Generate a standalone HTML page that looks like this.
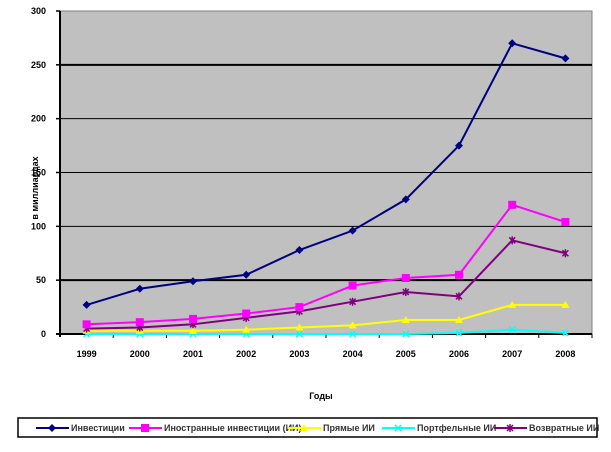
<!DOCTYPE html>
<html><head><meta charset="utf-8"><style>
body{margin:0;background:#fff;font-family:"Liberation Sans",sans-serif}
svg text{font-family:"Liberation Sans",sans-serif;font-weight:bold;font-size:9px}
</style></head><body>
<svg width="611" height="447">
<g id="g"></g>
</svg>
<script>
const categories=["1999","2000","2001","2002","2003","2004","2005","2006","2007","2008"];
const invest=[27,42,49,55,78,96,125,175,270,256];
const foreign=[9,11,14,19,25,45,52,55,120,104];
const direct=[3,3,3,4,6,8,13,13,27,27];
const portfolio=[0,0,0,0,0,0,0,1,4,1];
const returned=[5,6,9,15,21,30,39,35,87,75];
const yTicks=[0,50,100,150,200,250,300];
const NS="http://www.w3.org/2000/svg";
const g=document.getElementById('g');
const L=60,R=592,T=11,B=334,ymax=300;
const cw=(R-L)/categories.length;
const X=i=>L+cw*(i+0.5);
const Y=v=>B-(v/ymax)*(B-T);
function el(t,a,p){const e=document.createElementNS(NS,t);for(const k in a)e.setAttribute(k,a[k]);(p||g).appendChild(e);return e;}
let e=el('rect',{x:L,y:T,width:R-L,height:B-T,fill:'#c0c0c0',stroke:'#808080'});


yTicks.forEach(v=>{
 if(v>0&&v<300){const l=el('line',{x1:L,x2:R,y1:Y(v),y2:Y(v),stroke:'#000','stroke-width':(v==250||v==50)?2:1});
 
 }
 const t=el('text',{x:L-14,y:Y(v)+3,'text-anchor':'end'});t.textContent=v;
 
 
 el('line',{x1:L-4,x2:L,y1:Y(v),y2:Y(v),stroke:'#000','stroke-width':1.5});
});
el('line',{x1:L,x2:L,y1:T,y2:B+3,stroke:'#000','stroke-width':2});
el('line',{x1:L-4,x2:R,y1:B,y2:B,stroke:'#000','stroke-width':2});
categories.forEach((c,i)=>{
 el('line',{x1:L+cw*(i+1),x2:L+cw*(i+1),y1:B,y2:B+4,stroke:'#000'});
 const t=el('text',{x:X(i),y:357,'text-anchor':'middle'});t.textContent=c;
 
 
});
let t=el('text',{x:321,y:399,'text-anchor':'middle'});t.textContent='Годы';


t=el('text',{x:0,y:0,'text-anchor':'middle','font-size':'7',transform:'translate(38,188) rotate(-90)'});t.textContent='в миллиардах';


function marker(type,x,y,c,p){
 if(type=='d')el('polygon',{points:`${x},${y-4} ${x+4},${y} ${x},${y+4} ${x-4},${y}`,fill:c},p);
 else if(type=='s')el('rect',{x:x-4,y:y-4,width:8,height:8,fill:c},p);
 else if(type=='t')el('polygon',{points:`${x},${y-4} ${x+4},${y+3} ${x-4},${y+3}`,fill:c},p);
 else if(type=='x'){el('path',{d:`M${x-3} ${y-3}L${x+3} ${y+3}M${x-3} ${y+3}L${x+3} ${y-3}`,stroke:c,'stroke-width':1.5},p);}
 else {el('path',{d:`M${x-3} ${y-3}L${x+3} ${y+3}M${x-3} ${y+3}L${x+3} ${y-3}M${x} ${y-4}L${x} ${y+4}`,stroke:c,'stroke-width':1.5},p);}
}
const series=[[portfolio,'#00ffff','x','series-portfolio'],[direct,'#ffff00','t','series-direct'],[returned,'#800080','*','series-returned'],[foreign,'#ff00ff','s','series-foreign'],[invest,'#000080','d','series-investments']];
series.forEach(([d,c,m,n])=>{
 const gg=el('g',{});
 
 
 el('polyline',{points:d.map((v,i)=>X(i)+','+Y(v)).join(' '),fill:'none',stroke:c,'stroke-width':2},gg);
 d.forEach((v,i)=>marker(m,X(i),Y(v),c,gg));
});
const lg=el('g',{});


el('rect',{x:18,y:418,width:579,height:19,fill:'#fff',stroke:'#000','stroke-width':1.5},lg);
const items=[['Инвестиции','#000080','d',36],['Иностранные инвестиции (ИИ)','#ff00ff','s',129],['Прямые ИИ','#ffff00','t',288],['Портфельные ИИ','#00ffff','x',382],['Возвратные ИИ','#800080','*',494]];
items.forEach(([s,c,m,x])=>{
 const ig=el('g',{},lg);
 
 
 el('line',{x1:x,x2:x+33,y1:428,y2:428,stroke:c,'stroke-width':2},ig);
 marker(m,x+16,428,c,ig);
 const tt=el('text',{x:x+35,y:431,'font-weight':'normal','font-size':'8',fill:'#333'},ig);tt.textContent=s;
});
</script>
</body></html>
